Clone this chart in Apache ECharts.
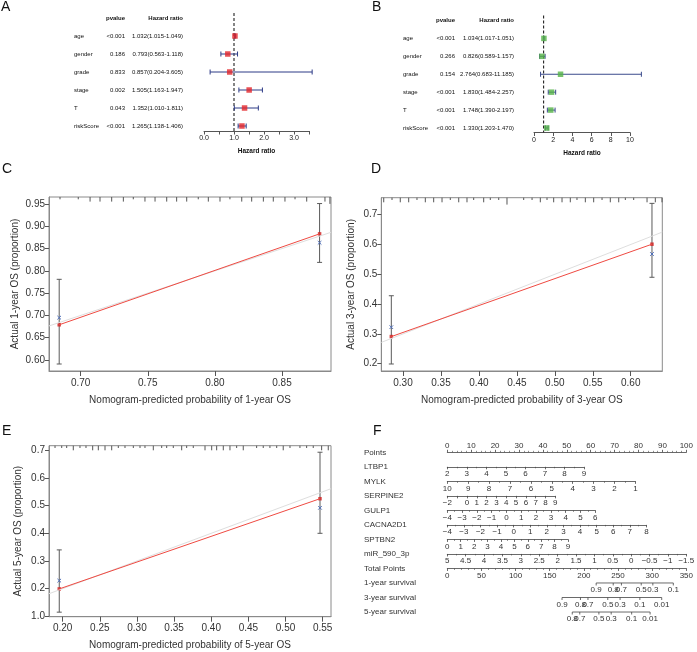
<!DOCTYPE html>
<html>
<head>
<meta charset="utf-8">
<script src="https://cdn.jsdelivr.net/npm/echarts@6/dist/echarts.min.js"></script>
<style>
  html, body { margin: 0; padding: 0; background: #fff; }
  #main { width: 697px; height: 652px; }
</style>
</head>
<body>
<div id="main"></div>
<script>
"use strict";

const FONT = '"Liberation Sans", Arial, Helvetica, sans-serif';

// ---- A / B : multivariate Cox forest plots ----
const forestVars = ['age', 'gender', 'grade', 'stage', 'T', 'riskScore'];
const aPvalue = ['<0.001', '0.186', '0.833', '0.002', '0.043', '<0.001'];
const aHR = [1.032, 0.793, 0.857, 1.505, 1.352, 1.265];
const aLower = [1.015, 0.563, 0.204, 1.163, 1.010, 1.138];
const aUpper = [1.049, 1.118, 3.605, 1.947, 1.811, 1.406];
const aTicks = [0, 0.5, 1, 1.5, 2, 2.5, 3, 3.5];
const aTickLabels = [0, 1, 2, 3];

const bPvalue = ['<0.001', '0.266', '0.154', '<0.001', '<0.001', '<0.001'];
const bHR = [1.034, 0.826, 2.764, 1.830, 1.748, 1.330];
const bLower = [1.017, 0.589, 0.683, 1.484, 1.390, 1.203];
const bUpper = [1.051, 1.157, 11.185, 2.257, 2.197, 1.470];
const bTicks = [0, 2, 4, 6, 8, 10];

// ---- C / D / E : calibration curves (predicted, observed, bias-corrected, CI) ----
const cPred = [0.684, 0.878];
const cObs = [0.679, 0.883];
const cCorr = [0.695, 0.863];
const cLow = [0.591, 0.819];
const cHigh = [0.781, 0.951];
const cXTicks = [0.70, 0.75, 0.80, 0.85];
const cYTicks = [0.60, 0.65, 0.70, 0.75, 0.80, 0.85, 0.90, 0.95];
const cRug = [[0.6846, 1], [0.6982, 1], [0.7070, 2], [0.7144, 2], [0.7231, 2], [0.7318, 2], [0.7392, 1],
  [0.7479, 2], [0.7554, 2], [0.7641, 2], [0.7715, 2], [0.7790, 2], [0.7876, 1], [0.7951, 2], [0.8038, 2],
  [0.8112, 1], [0.8200, 2], [0.8274, 2], [0.8361, 2], [0.8435, 2], [0.8522, 2], [0.8597, 1], [0.8684, 2],
  [0.8820, 2], [0.8857, 3]];

const dPred = [0.2846, 0.628];
const dObs = [0.291, 0.601];
const dCorr = [0.3225, 0.568];
const dLow = [0.199, 0.490];
const dHigh = [0.428, 0.738];
const dXTicks = [0.30, 0.35, 0.40, 0.45, 0.50, 0.55, 0.60];
const dYTicks = [0.2, 0.3, 0.4, 0.5, 0.6, 0.7];
const dRug = [[0.2746, 2], [0.2855, 1], [0.2964, 2], [0.3075, 2], [0.3184, 1], [0.3294, 2], [0.3404, 2],
  [0.3514, 2], [0.3623, 1], [0.3734, 2], [0.3843, 2], [0.3931, 1], [0.4063, 2], [0.4150, 1], [0.4261, 1],
  [0.4370, 3], [0.4590, 1], [0.4700, 1], [0.4809, 2], [0.4897, 1], [0.4985, 2], [0.5095, 2], [0.5204, 2],
  [0.5292, 1], [0.5402, 2], [0.5512, 2], [0.5622, 1], [0.5731, 2], [0.5842, 2], [0.5929, 1], [0.6039, 1],
  [0.6215, 2], [0.6324, 2], [0.6412, 2]];

const ePred = [0.1954, 0.5464];
const eObs = [0.199, 0.525];
const eCorr = [0.229, 0.492];
const eLow = [0.115, 0.400];
const eHigh = [0.340, 0.693];
const eXTicks = [0.20, 0.25, 0.30, 0.35, 0.40, 0.45, 0.50, 0.55];
const eYTicks = [0.1, 0.2, 0.3, 0.4, 0.5, 0.6, 0.7];
const eYTickText = ['1.0', '0.2', '0.3', '0.4', '0.5', '0.6', '0.7'];
const eRug = [[0.1897, 1], [0.1987, 1], [0.2054, 1], [0.2143, 2], [0.2233, 1], [0.2314, 1], [0.2404, 2],
  [0.2480, 2], [0.2570, 2], [0.2660, 2], [0.2749, 1], [0.2839, 1], [0.2951, 1], [0.3041, 1], [0.3108, 1],
  [0.3220, 2], [0.3333, 1], [0.3400, 1], [0.3489, 1], [0.3602, 2], [0.3669, 1], [0.3758, 1], [0.3916, 2],
  [0.4006, 2], [0.4073, 2], [0.4162, 2], [0.4252, 2], [0.4342, 1], [0.4431, 2], [0.4611, 1], [0.4700, 1],
  [0.4790, 1], [0.4881, 1], [0.4969, 2], [0.5060, 1], [0.5194, 1], [0.5284, 1], [0.5373, 1], [0.5486, 2],
  [0.5575, 2]];

// ---- F : nomogram ----
const nomoNames = ['Points', 'LTBP1', 'MYLK', 'SERPINE2', 'GULP1', 'CACNA2D1', 'SPTBN2', 'miR_590_3p',
  'Total Points', '1-year survival', '3-year survival', '5-year survival'];
const pointsLabels = [0, 10, 20, 30, 40, 50, 60, 70, 80, 90, 100];
const varNames = ['LTBP1', 'MYLK', 'SERPINE2', 'GULP1', 'CACNA2D1', 'SPTBN2', 'miR_590_3p'];
const varMin = [2, 1, -2, -4, -4, 0, -1.5];
const varMax = [9, 10, 9, 6, 8, 9, 5];
const varInverse = [false, true, false, false, false, false, true];
const varMaxPoints = [57.2, 78.7, 45.2, 61.9, 83.3, 50.5, 100];
const varStep = [1, 1, 1, 1, 1, 1, 0.5];
const varMinor = [2, 2, 0, 2, 2, 2, 2];
const varLabels = [
  [2, 3, 4, 5, 6, 7, 8, 9],
  [10, 9, 8, 7, 6, 5, 4, 3, 2, 1],
  [-2, 0, 1, 2, 3, 4, 5, 6, 7, 8, 9],
  [-4, -3, -2, -1, 0, 1, 2, 3, 4, 5, 6],
  [-4, -3, -2, -1, 0, 1, 2, 3, 4, 5, 6, 7, 8],
  [0, 1, 2, 3, 4, 5, 6, 7, 8, 9],
  [5, 4.5, 4, 3.5, 3, 2.5, 2, 1.5, 1, 0.5, 0, -0.5, -1, -1.5]
];
const totalLabels = [0, 50, 100, 150, 200, 250, 300, 350];
const survLabels = [
  ['0.9', '0.8', '0.7', '0.5', '0.3', '0.1'],
  ['0.9', '0.8', '0.7', '0.5', '0.3', '0.1', '0.01'],
  ['0.8', '0.7', '0.5', '0.3', '0.1', '0.01']
];
const survTotal = [
  [218, 243, 255, 284, 301, 331],
  [168, 195, 206, 235, 253, 282, 314],
  [183, 194, 222, 240, 270, 297]
];

const grids = [], xAxes = [], yAxes = [], series = [];

function addGrid(g, x, y) {
  const i = grids.length;
  grids.push(Object.assign({ outerBoundsMode: 'none', containLabel: false }, g));
  xAxes.push(Object.assign({ gridIndex: i }, x));
  yAxes.push(Object.assign({ gridIndex: i }, y));
  return i;
}

function fmtMinus(v) {
  return v < 0 ? '\u2212' + String(-v) : String(v);
}

function forestPanel(cfg) {
  const rows = [''].concat(forestVars);
  const hrText = cfg.hr.map((h, i) => h.toFixed(3) + '(' + cfg.lo[i].toFixed(3) + '-' + cfg.hi[i].toFixed(3) + ')');
  const txt = { fontSize: 6, fontFamily: FONT, color: '#111' };
  const gi = addGrid({ left: cfg.left, top: cfg.top, width: cfg.width, height: cfg.height }, {
    type: 'value', min: 0, max: cfg.xMax, offset: cfg.offset,
    axisLine: { show: true, onZero: false, lineStyle: { color: '#555', width: 1 } },
    axisTick: { show: true, customValues: cfg.ticks, length: 3.5, lineStyle: { color: '#555' } },
    axisLabel: { show: true, customValues: cfg.labels, formatter: cfg.fmt, margin: 4,
      fontSize: 7, color: '#222', fontFamily: FONT },
    splitLine: { show: false },
    name: 'Hazard ratio', nameLocation: 'middle', nameGap: 17,
    nameTextStyle: { fontSize: 6.5, fontWeight: 'bold', color: '#111', fontFamily: FONT }
  }, {
    type: 'category', data: rows, inverse: true, boundaryGap: false,
    axisLine: { show: false }, axisTick: { show: false }, splitLine: { show: false },
    axisLabel: Object.assign({
      interval: 0, margin: cfg.margin,
      formatter: (v, i) => i === 0
        ? '{n| }{ph|pvalue}{hh|Hazard ratio}'
        : '{n|' + v + '}{p|' + cfg.p[i - 1] + '}{h|' + hrText[i - 1] + '}',
      rich: {
        n: Object.assign({ width: cfg.nw, align: 'left' }, txt),
        p: Object.assign({ width: cfg.pw, align: 'right' }, txt),
        h: Object.assign({ width: cfg.hw, align: 'right' }, txt),
        ph: Object.assign({ width: cfg.pw, align: 'right', fontWeight: 'bold' }, txt),
        hh: Object.assign({ width: cfg.hw, align: 'right', fontWeight: 'bold' }, txt)
      }
    }, txt)
  });

  // reference line at HR = 1
  series.push({
    type: 'custom', xAxisIndex: gi, yAxisIndex: gi, silent: true, data: [[1, 0]],
    renderItem: (params, api) => {
      const x = api.coord([1, 0])[0];
      const cs = params.coordSys;
      return { type: 'line', shape: { x1: x, y1: cs.y - 5, x2: x, y2: cs.y + cs.height + cfg.offset },
        style: { stroke: '#222', lineWidth: 1.1, lineDash: [3, 2] } };
    }
  });
  // confidence intervals
  series.push({
    type: 'custom', xAxisIndex: gi, yAxisIndex: gi, silent: true,
    encode: { x: [0, 2], y: 1 },
    data: cfg.lo.map((l, i) => [l, i + 1, cfg.hi[i]]),
    renderItem: (params, api) => {
      const a = api.coord([api.value(0), api.value(1)]);
      const b = api.coord([api.value(2), api.value(1)]);
      const st = { stroke: cfg.barColor, lineWidth: 1 };
      return { type: 'group', children: [
        { type: 'line', shape: { x1: a[0], y1: a[1], x2: b[0], y2: b[1] }, style: st },
        { type: 'line', shape: { x1: a[0], y1: a[1] - 2.5, x2: a[0], y2: a[1] + 2.5 }, style: st },
        { type: 'line', shape: { x1: b[0], y1: b[1] - 2.5, x2: b[0], y2: b[1] + 2.5 }, style: st }
      ] };
    }
  });
  series.push({
    type: 'scatter', xAxisIndex: gi, yAxisIndex: gi, silent: true,
    symbol: 'rect', symbolSize: 5.5, itemStyle: { color: cfg.color },
    data: cfg.hr.map((h, i) => [h, i + 1])
  });
}

forestPanel({
  left: 204, top: 18, width: 105, height: 108, offset: 5, xMax: 3.5,
  ticks: aTicks, labels: aTickLabels, fmt: v => v.toFixed(1),
  hr: aHR, lo: aLower, hi: aUpper, p: aPvalue,
  color: '#e3262a', barColor: '#2c3a86', margin: 21, nw: 32, pw: 19, hw: 58
});
forestPanel({
  left: 534, top: 20.5, width: 96, height: 107.5, offset: 4.5, xMax: 10,
  ticks: bTicks, labels: bTicks, fmt: v => String(v),
  hr: bHR, lo: bLower, hi: bUpper, p: bPvalue,
  color: '#55b347', barColor: '#3b4b8c', margin: 20, nw: 32, pw: 20, hw: 59
});

function calibPanel(cfg) {
  const gi = addGrid({
    left: cfg.left, top: cfg.top, width: cfg.width, height: cfg.height,
    show: true, borderColor: '#8a8a8a', borderWidth: 1
  }, {
    type: 'value', min: cfg.xMin, max: cfg.xMax,
    axisLine: { show: true, onZero: false, lineStyle: { color: '#8a8a8a' } },
    axisTick: { show: true, customValues: cfg.xTicks, length: 5, lineStyle: { color: '#555' } },
    axisLabel: { show: true, customValues: cfg.xTicks, formatter: v => v.toFixed(2), margin: 7,
      fontSize: 10, color: '#333', fontFamily: FONT },
    splitLine: { show: false },
    name: cfg.xName, nameLocation: 'middle', nameGap: 24,
    nameTextStyle: { fontSize: 10, color: '#333', fontFamily: FONT }
  }, {
    type: 'value', min: cfg.yMin, max: cfg.yMax,
    axisLine: { show: true, onZero: false, lineStyle: { color: '#8a8a8a' } },
    axisTick: { show: true, customValues: cfg.yTicks, length: 4, lineStyle: { color: '#555' } },
    axisLabel: { show: true, customValues: cfg.yTicks, formatter: cfg.yFmt, margin: 4,
      fontSize: 10, color: '#333', fontFamily: FONT },
    splitLine: { show: false },
    name: cfg.yName, nameLocation: 'middle', nameGap: cfg.yNameGap, nameRotate: 90,
    nameTextStyle: { fontSize: 10, color: '#333', fontFamily: FONT }
  });
  const ax = { xAxisIndex: gi, yAxisIndex: gi, silent: true };

  // ideal line
  series.push(Object.assign({
    type: 'line', symbol: 'none', clip: true,
    lineStyle: { color: '#dedede', width: 1 },
    data: [[cfg.xMin, cfg.xMin], [cfg.xMax, cfg.xMax]]
  }, ax));
  // observed calibration line
  series.push(Object.assign({
    type: 'line', symbol: 'none',
    lineStyle: { color: '#ef4a42', width: 1 },
    data: cfg.pred.map((p, i) => [p, cfg.obs[i]])
  }, ax));
  // CI bars
  series.push(Object.assign({
    type: 'custom', encode: { x: 0, y: [1, 2] },
    data: cfg.pred.map((p, i) => [p, cfg.low[i], cfg.high[i]]),
    renderItem: (params, api) => {
      const lo = api.coord([api.value(0), api.value(1)]);
      const hi = api.coord([api.value(0), api.value(2)]);
      const st = { stroke: '#5a5a5a', lineWidth: 1 };
      return { type: 'group', children: [
        { type: 'line', shape: { x1: lo[0], y1: lo[1], x2: hi[0], y2: hi[1] }, style: st },
        { type: 'line', shape: { x1: lo[0] - 2.5, y1: lo[1], x2: lo[0] + 2.5, y2: lo[1] }, style: st },
        { type: 'line', shape: { x1: hi[0] - 2.5, y1: hi[1], x2: hi[0] + 2.5, y2: hi[1] }, style: st }
      ] };
    }
  }, ax));
  series.push(Object.assign({
    type: 'scatter', symbol: 'rect', symbolSize: 3.5,
    itemStyle: { color: '#d11f1f' },
    data: cfg.pred.map((p, i) => [p, cfg.obs[i]])
  }, ax));
  // bias-corrected estimates (x)
  series.push(Object.assign({
    type: 'custom',
    data: cfg.pred.map((p, i) => [p, cfg.corr[i]]),
    renderItem: (params, api) => {
      const c = api.coord([api.value(0), api.value(1)]);
      const st = { stroke: '#4f6fb8', lineWidth: 1 };
      const s = 1.8;
      return { type: 'group', children: [
        { type: 'line', shape: { x1: c[0] - s, y1: c[1] - s, x2: c[0] + s, y2: c[1] + s }, style: st },
        { type: 'line', shape: { x1: c[0] - s, y1: c[1] + s, x2: c[0] + s, y2: c[1] - s }, style: st }
      ] };
    }
  }, ax));
  // distribution of predictions along the top edge
  series.push(Object.assign({
    type: 'custom',
    data: cfg.rug,
    renderItem: (params, api) => {
      const x = api.coord([api.value(0), cfg.yMax])[0];
      const y = params.coordSys.y;
      return { type: 'line', shape: { x1: x, y1: y, x2: x, y2: y + api.value(1) * 2.3 },
        style: { stroke: '#555', lineWidth: 1 } };
    }
  }, ax));
}

calibPanel({
  left: 49, top: 197, width: 282, height: 174,
  xMin: 0.6764, xMax: 0.8865, yMin: 0.5753, yMax: 0.9657,
  xTicks: cXTicks, yTicks: cYTicks, yFmt: v => v.toFixed(2),
  pred: cPred, obs: cObs, corr: cCorr, low: cLow, high: cHigh, rug: cRug,
  xName: 'Nomogram-predicted probability of 1-year OS', yName: 'Actual 1-year OS (proportion)', yNameGap: 29
});
calibPanel({
  left: 381.3, top: 197.7, width: 281, height: 173.3,
  xMin: 0.2714, xMax: 0.6416, yMin: 0.1755, yMax: 0.757,
  xTicks: dXTicks, yTicks: dYTicks, yFmt: v => v.toFixed(1),
  pred: dPred, obs: dObs, corr: dCorr, low: dLow, high: dHigh, rug: dRug,
  xName: 'Nomogram-predicted probability of 3-year OS', yName: 'Actual 3-year OS (proportion)', yNameGap: 25
});
calibPanel({
  left: 49, top: 445.7, width: 282, height: 171,
  xMin: 0.1816, xMax: 0.5612, yMin: 0.0986, yMax: 0.7166,
  xTicks: eXTicks, yTicks: eYTicks,
  yFmt: v => eYTickText[eYTicks.findIndex(t => Math.abs(t - v) < 1e-6)],
  pred: ePred, obs: eObs, corr: eCorr, low: eLow, high: eHigh, rug: eRug,
  xName: 'Nomogram-predicted probability of 5-year OS', yName: 'Actual 5-year OS (proportion)', yNameGap: 26
});

// ---- nomogram layout ----
const nomoLeft = 447.3, nomoWidth = 239, nomoTop = 452.3, nomoStep = 14.52;
const rowY = i => nomoTop + i * nomoStep;
const nomoAxisLine = { show: true, onZero: false, lineStyle: { color: '#444', width: 0.8 } };
const nomoLabel = { fontSize: 8, color: '#333', fontFamily: FONT };

// row names
addGrid({ left: nomoLeft, top: nomoTop, width: nomoWidth, height: nomoStep * (nomoNames.length - 1) },
  { type: 'value', show: false },
  { type: 'category', data: nomoNames, inverse: true, boundaryGap: false,
    axisLine: { show: false }, axisTick: { show: false }, splitLine: { show: false },
    axisLabel: Object.assign({ interval: 0, margin: nomoLeft - 364, align: 'left' }, nomoLabel) });

// Points scale (labels above)
addGrid({ left: nomoLeft, top: rowY(0), width: nomoWidth, height: 1 }, {
  type: 'value', position: 'top', min: 0, max: 100, interval: 10,
  axisLine: nomoAxisLine,
  axisTick: { show: true, length: 2.5, lineStyle: { color: '#444', width: 0.8 } },
  minorTick: { show: true, splitNumber: 5, length: 1.5, lineStyle: { color: '#444', width: 0.6 } },
  axisLabel: Object.assign({ customValues: pointsLabels, margin: 2.5 }, nomoLabel),
  splitLine: { show: false }
}, { type: 'value', show: false });

varNames.forEach((name, k) => {
  addGrid({ left: nomoLeft, top: rowY(k + 1) - 1, width: nomoWidth * varMaxPoints[k] / 100, height: 1 }, {
    type: 'value', position: 'bottom', min: varMin[k], max: varMax[k], interval: varStep[k],
    inverse: varInverse[k],
    axisLine: nomoAxisLine,
    axisTick: { show: true, length: 2.5, lineStyle: { color: '#444', width: 0.8 } },
    minorTick: { show: varMinor[k] > 0, splitNumber: varMinor[k] || 2, length: 1.5,
      lineStyle: { color: '#444', width: 0.6 } },
    axisLabel: Object.assign({ customValues: varLabels[k], formatter: fmtMinus, margin: 3 }, nomoLabel),
    splitLine: { show: false }
  }, { type: 'value', show: false });
});

// Total points scale
addGrid({ left: nomoLeft, top: rowY(8) - 1, width: nomoWidth, height: 1 }, {
  type: 'value', position: 'bottom', min: 0, max: 350, interval: 50,
  axisLine: nomoAxisLine,
  axisTick: { show: true, length: 2.5, lineStyle: { color: '#444', width: 0.8 } },
  minorTick: { show: true, splitNumber: 5, length: 1.5, lineStyle: { color: '#444', width: 0.6 } },
  axisLabel: Object.assign({ customValues: totalLabels, margin: 3 }, nomoLabel),
  splitLine: { show: false }
}, { type: 'value', show: false });

// survival probability scales, placed on the total-points scale
survLabels.forEach((labels, k) => {
  const gi = addGrid({ left: nomoLeft, top: rowY(9 + k) - 1, width: nomoWidth, height: 1 },
    { type: 'value', min: 0, max: 350, show: false },
    { type: 'value', min: 0, max: 1, show: false });
  const tp = survTotal[k];
  series.push({
    type: 'custom', xAxisIndex: gi, yAxisIndex: gi, silent: true,
    data: [[tp[0], tp[tp.length - 1]]],
    renderItem: (params, api) => {
      const a = api.coord([api.value(0), 0])[0];
      const b = api.coord([api.value(1), 0])[0];
      const y = params.coordSys.y + params.coordSys.height;
      return { type: 'line', shape: { x1: a, y1: y, x2: b, y2: y }, style: { stroke: '#444', lineWidth: 0.8 } };
    }
  });
  series.push({
    type: 'custom', xAxisIndex: gi, yAxisIndex: gi, silent: true,
    data: tp.map((t, i) => [t, i]),
    renderItem: (params, api) => {
      const x = api.coord([api.value(0), 0])[0];
      const y = params.coordSys.y + params.coordSys.height;
      return { type: 'group', children: [
        { type: 'line', shape: { x1: x, y1: y, x2: x, y2: y + 2.5 }, style: { stroke: '#444', lineWidth: 0.8 } },
        { type: 'text', style: { text: labels[api.value(1)], x: x, y: y + 3, align: 'center', verticalAlign: 'top',
          fontSize: 8, fontFamily: FONT, fill: '#333' } }
      ] };
    }
  });
});

const letter = (t, left, top) => ({
  text: t, left: left, top: top, padding: 0,
  textStyle: { fontSize: 14, fontWeight: 'normal', color: '#111', fontFamily: FONT }
});

const chart = echarts.init(document.getElementById('main'), null, { renderer: 'canvas' });
chart.setOption({
  backgroundColor: '#fff',
  animation: false,
  title: [letter('A', 1, 0.5), letter('B', 372, 0.5), letter('C', 2, 162.5),
    letter('D', 371, 162.5), letter('E', 2, 424.5), letter('F', 373, 424.5)],
  grid: grids,
  xAxis: xAxes,
  yAxis: yAxes,
  series: series
});
</script>
</body>
</html>
